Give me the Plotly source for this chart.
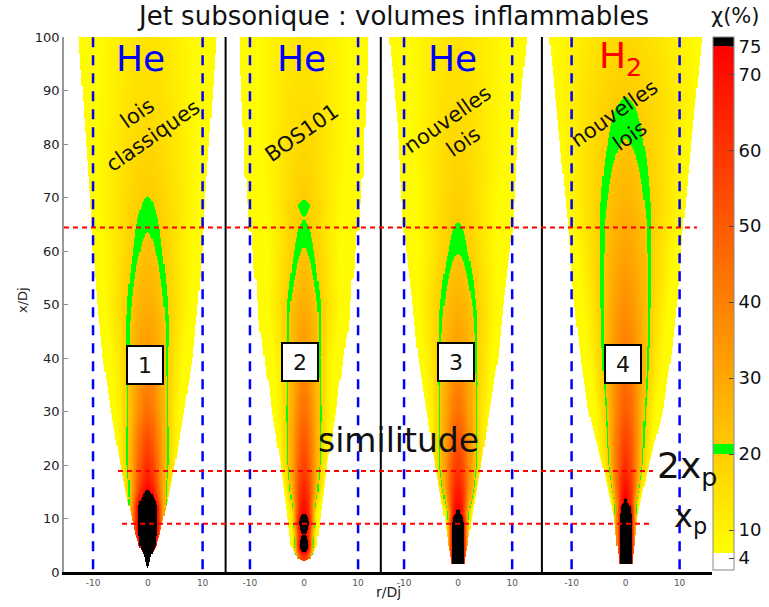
import numpy as np
import plotly.graph_objects as go

# ---------------- data ----------------
GASES = ["He", "He", "He", "H<sub>2</sub>"]
GAS_COLORS = ["rgb(0,0,255)", "rgb(0,0,255)", "rgb(0,0,255)", "rgb(255,0,0)"]
LAWS = ["lois<br>classiques", "BOS101", "nouvelles<br>lois", "nouvelles<br>lois"]
CASE_IDS = ["1", "2", "3", "4"]
R_TICKS = [-10, 0, 10]
R_TICK_TEXT = ["-10", "0", "10"]
Y_TICKS = list(range(0, 101, 10))
CB_TICKVALS = [6.3, 10, 20, 30, 40, 50, 60, 70, 73.6]
CB_TICKTEXT = ["4", "10", "20", "30", "40", "50", "60", "70", "75"]
XP_LEVEL = 9.0          # x_p
TWO_XP_LEVEL = 18.9     # 2 x_p
UPPER_LEVEL = 64.4      # upper red line
R_LIMIT = 10            # blue dashed lines at r/Dj = +-10

# centreline concentration stations (x/Dj, chi %) / profile scale / profile exponent
P1_X   = [0, 1, 3, 5, 8, 12, 14, 15, 17, 20, 30, 40, 50, 60, 65, 70, 80, 90, 100]
P1_CHI = [100, 100, 100, 100, 100, 100, 82, 75, 68, 62, 45, 35, 28, 23.5, 21.7, 20, 17.5, 15.5, 14]
P1_L   = [0.4, 0.4, 1.1, 2.3, 2.8, 2.8, 2.9, 3.0, 3.2, 3.53, 4.19, 5.2, 7.0, 7.7, 8.7, 9.5, 10.5, 11.3, 12]
P1_P   = [2.5, 2.5, 2.5, 2.5, 2.5, 2.5, 2.2, 2.0, 1.85, 1.7, 1.7, 1.7, 1.7, 1.7, 1.7, 1.7, 1.7, 1.7, 1.7]
P1_XE  = [0.8, 3, 5, 7, 10, 15, 20, 30, 40, 50, 60, 70, 85, 100]
P1_RE  = [0.15, 0.7, 1.6, 2.2, 2.9, 4.0, 5.0, 6.7, 8.2, 9.2, 10.0, 10.5, 11.6, 12.6]

P2_X   = [2.2, 3, 4, 5, 6, 7, 8, 9, 10, 11, 13, 15, 20, 30, 40, 50, 55, 60, 64, 66, 68.5, 70, 75, 80, 100]
P2_CHI = [55, 62, 80, 86, 80, 73, 80, 86, 82, 72, 68, 65, 56, 44, 35, 28, 25, 22.5, 20.8, 19.8, 20.8, 19.5, 18, 17, 13.5]
P2_L   = [1.5, 1.5, 1.5, 1.6, 1.6, 1.7, 1.7, 1.8, 1.8, 1.9, 2.1, 2.4, 2.95, 3.68, 4.2, 5.9, 6.0, 6.3, 6.8, 7.0, 7.2, 7.5, 8.5, 9.5, 12]
P2_P   = [2.5, 2.5, 2.5, 2.5, 2.5, 2.5, 2.5, 2.5, 2.5, 2.5, 2.2, 2.0, 1.7, 1.7, 1.7, 1.7, 1.7, 1.7, 1.7, 1.7, 1.7, 1.7, 1.7, 1.7, 1.7]
P2_XE  = [2.2, 2.6, 3.2, 5, 10, 15, 20, 30, 35.5, 36, 44.5, 45, 54.5, 55, 63.5, 64, 73.5, 74, 83, 83.5, 92.5, 93, 100]
P2_RE  = [0.3, 1.2, 1.7, 2.4, 3.0, 3.7, 4.3, 5.9, 6.5, 6.9, 7.9, 8.3, 8.8, 9.3, 9.8, 10.2, 10.6, 11.0, 11.2, 11.5, 11.7, 11.9, 12.0]

P3_X   = [1.5, 3, 9, 10, 11, 13, 15, 20, 30, 40, 50, 55, 60, 65.3, 70, 80, 100]
P3_CHI = [100, 100, 100, 90, 75, 71, 67, 58, 44, 34, 27, 24.5, 22, 20, 19, 17, 14]
P3_L   = [1.64, 1.64, 1.64, 1.7, 1.8, 2.2, 2.6, 3.37, 4.03, 5.08, 6.7, 6.9, 7.0, 7.5, 8.0, 10, 12]
P3_P   = [2.5, 2.5, 2.5, 2.5, 2.5, 2.2, 2.0, 1.7, 1.7, 1.7, 1.7, 1.7, 1.7, 1.7, 1.7, 1.7, 1.7]
P3_XE  = [1.5, 5, 10, 20, 30, 40, 50, 65, 83, 100]
P3_RE  = [1.2, 1.8, 2.5, 4.3, 5.8, 7.4, 8.4, 10.2, 11.1, 12.75]

P4_X   = [1.5, 3, 10.5, 12, 13, 15, 20, 30, 40, 50, 60, 70, 80, 86, 88.6, 92, 100]
P4_CHI = [100, 100, 100, 88, 75, 72, 62, 50, 42, 36, 31, 26, 22.5, 20.8, 20, 19, 17]
P4_L   = [1.64, 1.64, 1.64, 1.75, 1.85, 2.2, 2.98, 3.9, 5.13, 6.28, 7.64, 9.9, 11.6, 13.4, 14, 14.5, 15]
P4_P   = [2.5, 2.5, 2.5, 2.5, 2.5, 2.1, 1.7, 1.7, 1.7, 1.7, 1.7, 1.7, 1.7, 1.7, 1.7, 1.7, 1.7]
P4_XE  = [1.5, 5, 10, 20, 30, 40, 51, 65, 83, 100]
P4_RE  = [1.2, 1.6, 2.1, 4.3, 6.9, 8.35, 9.6, 10.7, 12.45, 14.15]

EDGE_FLOOR = 8.0   # chi at the outer edge of the measured cone

# ---------------- layout helpers ----------------
FONT = "DejaVu Sans"
W, H = 769, 607
PL, PR, PT, PB = 64, 712, 37, 572   # plot area in pixels
PW, PH = PR - PL, PB - PT
ML, MT = PL, PT
MR, MB = W - ML - PW, H - MT - PH
DOMAINS = [[0, 0.2494], [0.2494, 0.4889], [0.4889, 0.7375], [0.7375, 1.0]]
RANGES = [[-15.3, 14.2], [-14.5, 14.2], [-14.3, 15.5], [-15.5, 16.0]]


def px(x):
    return (x - PL) / PW


def py(y):
    return (PB - y) / PH


ZMIN, ZMAX = 4.74, 74.9
W_TOP, G_LO, K_TOP = 7.0, 20.0, 73.7
G_HI_FIELD, G_HI_BAR = 22.2, 21.3


def nz(v):
    return (v - ZMIN) / (ZMAX - ZMIN)


def gcol(v):
    g = int(round(255 * (K_TOP - v) / (K_TOP - W_TOP)))
    return f"rgb(255,{g},0)"


def colorscale(g_hi):
    return [
        [0.0, "rgb(255,255,255)"], [nz(W_TOP), "rgb(255,255,255)"],
        [nz(W_TOP), gcol(W_TOP)], [nz(G_LO), gcol(G_LO)],
        [nz(G_LO), "rgb(0,255,0)"], [nz(g_hi), "rgb(0,255,0)"],
        [nz(g_hi), gcol(g_hi)], [nz(K_TOP), gcol(K_TOP)],
        [nz(K_TOP), "rgb(0,0,0)"], [1.0, "rgb(0,0,0)"],
    ]


R = np.round(np.arange(-16, 16.001, 0.2), 2)
X = np.round(np.arange(0, 100.001, 0.2), 2)


def build(xs, chi, L, p, xe, re):
    c = np.interp(X, xs, chi)[:, None]
    l = np.interp(X, xs, L)[:, None]
    e = np.interp(X, xs, p)[:, None]
    edge = np.interp(X, xe, re)[:, None]
    rr = np.abs(R)[None, :]
    z = c * np.exp(-(rr / l) ** e)
    z = np.maximum(z, EDGE_FLOOR)
    mask = (rr > edge) | (X[:, None] < max(xs[0], xe[0]))
    z = np.where(mask, np.nan, np.round(z, 1))
    return z


PANELS = [
    (P1_X, P1_CHI, P1_L, P1_P, P1_XE, P1_RE),
    (P2_X, P2_CHI, P2_L, P2_P, P2_XE, P2_RE),
    (P3_X, P3_CHI, P3_L, P3_P, P3_XE, P3_RE),
    (P4_X, P4_CHI, P4_L, P4_P, P4_XE, P4_RE),
]

fig = go.Figure()
for i, pdat in enumerate(PANELS):
    ax = "x" if i == 0 else f"x{i+1}"
    z = build(*pdat)
    fig.add_trace(go.Heatmap(
        x=R, y=X, z=z, xaxis=ax, yaxis="y",
        colorscale=colorscale(G_HI_FIELD), zmin=ZMIN, zmax=ZMAX, zsmooth=False,
        hoverinfo="skip", showscale=False,
    ))

# colour bar (carried by a trace lying outside the visible range)
fig.add_trace(go.Heatmap(
    x=[200, 201], y=[200, 201], z=[[ZMIN, ZMAX], [ZMIN, ZMAX]],
    xaxis="x4", yaxis="y", colorscale=colorscale(G_HI_BAR),
    zmin=ZMIN, zmax=ZMAX, hoverinfo="skip", showscale=True,
    colorbar=dict(
        x=1 + 1 / PW, xanchor="left", y=py(303.5), yanchor="middle",
        len=533 / PH, lenmode="fraction", thickness=21,
        xpad=0, ypad=0, outlinecolor="#888", outlinewidth=1,
        tickvals=CB_TICKVALS, ticktext=CB_TICKTEXT,
        ticks="inside", ticklen=5, tickcolor="#444",
        tickfont=dict(family=FONT, size=18, color="#111"),
    ),
))

layout = dict(
    width=W, height=H,
    margin=dict(l=ML, r=MR, t=MT, b=MB, autoexpand=False),
    paper_bgcolor="white", plot_bgcolor="white",
    showlegend=False,
    font=dict(family=FONT),
    yaxis=dict(range=[0, 100], domain=[0, 1], anchor="x",
               tickvals=Y_TICKS, ticks="inside", ticklen=4, tickcolor="#888",
               showline=True, linecolor="#999", linewidth=1.5,
               showgrid=False, zeroline=False,
               tickfont=dict(family=FONT, size=13, color="#222")),
)
for i in range(4):
    key = "xaxis" if i == 0 else f"xaxis{i+1}"
    layout[key] = dict(domain=DOMAINS[i], range=RANGES[i], anchor="y",
                       tickvals=R_TICKS, ticktext=R_TICK_TEXT, ticks="",
                       showline=True, linecolor="black", linewidth=3,
                       showgrid=False, zeroline=False,
                       tickfont=dict(family=FONT, size=9, color="#555"))
fig.update_layout(**layout)

shapes = []
# separators between panels
for i in range(1, 4):
    shapes.append(dict(type="line", xref="paper", yref="paper",
                       x0=DOMAINS[i][0], x1=DOMAINS[i][0], y0=0, y1=1,
                       line=dict(color="black", width=2)))
# blue dashed r = +-10
for i in range(4):
    ax = "x" if i == 0 else f"x{i+1}"
    for s in (-1, 1):
        shapes.append(dict(type="line", xref=ax, yref="y",
                           x0=s * R_LIMIT, x1=s * R_LIMIT, y0=0.5, y1=100,
                           line=dict(color="rgb(0,0,255)", width=2.5, dash="10px,8px")))
# red dotted horizontal lines
for lvl, xa, xb in [(UPPER_LEVEL, 0.0, px(697)), (TWO_XP_LEVEL, px(118), px(653)),
                    (XP_LEVEL, px(122), px(653))]:
    shapes.append(dict(type="line", xref="paper", yref="y", x0=xa, x1=xb,
                       y0=lvl, y1=lvl,
                       line=dict(color="rgb(255,0,0)", width=2, dash="5px,4px")))

ann = []


def text(t, xref, yref, x, y, size, color="#111", angle=0, **kw):
    ann.append(dict(text=t, xref=xref, yref=yref, x=x, y=y, showarrow=False,
                    xanchor="center", yanchor="middle", textangle=angle,
                    font=dict(family=FONT, size=size, color=color), **kw))


text("Jet subsonique : volumes inflammables", "paper", "paper", px(393), py(16), 26)
text("χ(%)", "paper", "paper", px(735), py(16), 21)
text("x/Dj", "paper", "paper", px(22), py(300), 13, "#222", -90)
text("r/Dj", "paper", "paper", px(388), py(592), 14, "#222")
GAS_R = [-1.4, -0.4, -1.0, -1.0]
LAW_R = [-0.5, -0.4, -0.5, -0.6]
LAW_Y = [83.6, 82.0, 82.6, 83.6]
BOX_R = [-0.5, -0.7, -0.4, -0.5]
BOX_Y = [38.7, 39.3, 39.3, 38.9]
for i in range(4):
    ax = "x" if i == 0 else f"x{i+1}"
    text(GASES[i], ax, "y", GAS_R[i], 96, 36, GAS_COLORS[i])
    text(LAWS[i], ax, "y", LAW_R[i], LAW_Y[i], 21, "#111", -35)
    text(CASE_IDS[i], ax, "y", BOX_R[i], BOX_Y[i], 22, "#111", 0,
         bgcolor="white", bordercolor="black", borderwidth=2, borderpad=5,
         width=24, height=26)
text("similitude", "paper", "paper", px(398), py(440), 33)
text("2x<sub>p</sub>", "paper", "paper", px(687), py(468), 36)
text("x<sub>p</sub>", "paper", "paper", px(690), py(518), 32)

fig.update_layout(shapes=shapes, annotations=ann)
fig.write_html("out.html",
               config={"displayModeBar": False},
               post_script="document.body.style.margin='0px';"
                           "document.body.style.overflow='hidden';")
